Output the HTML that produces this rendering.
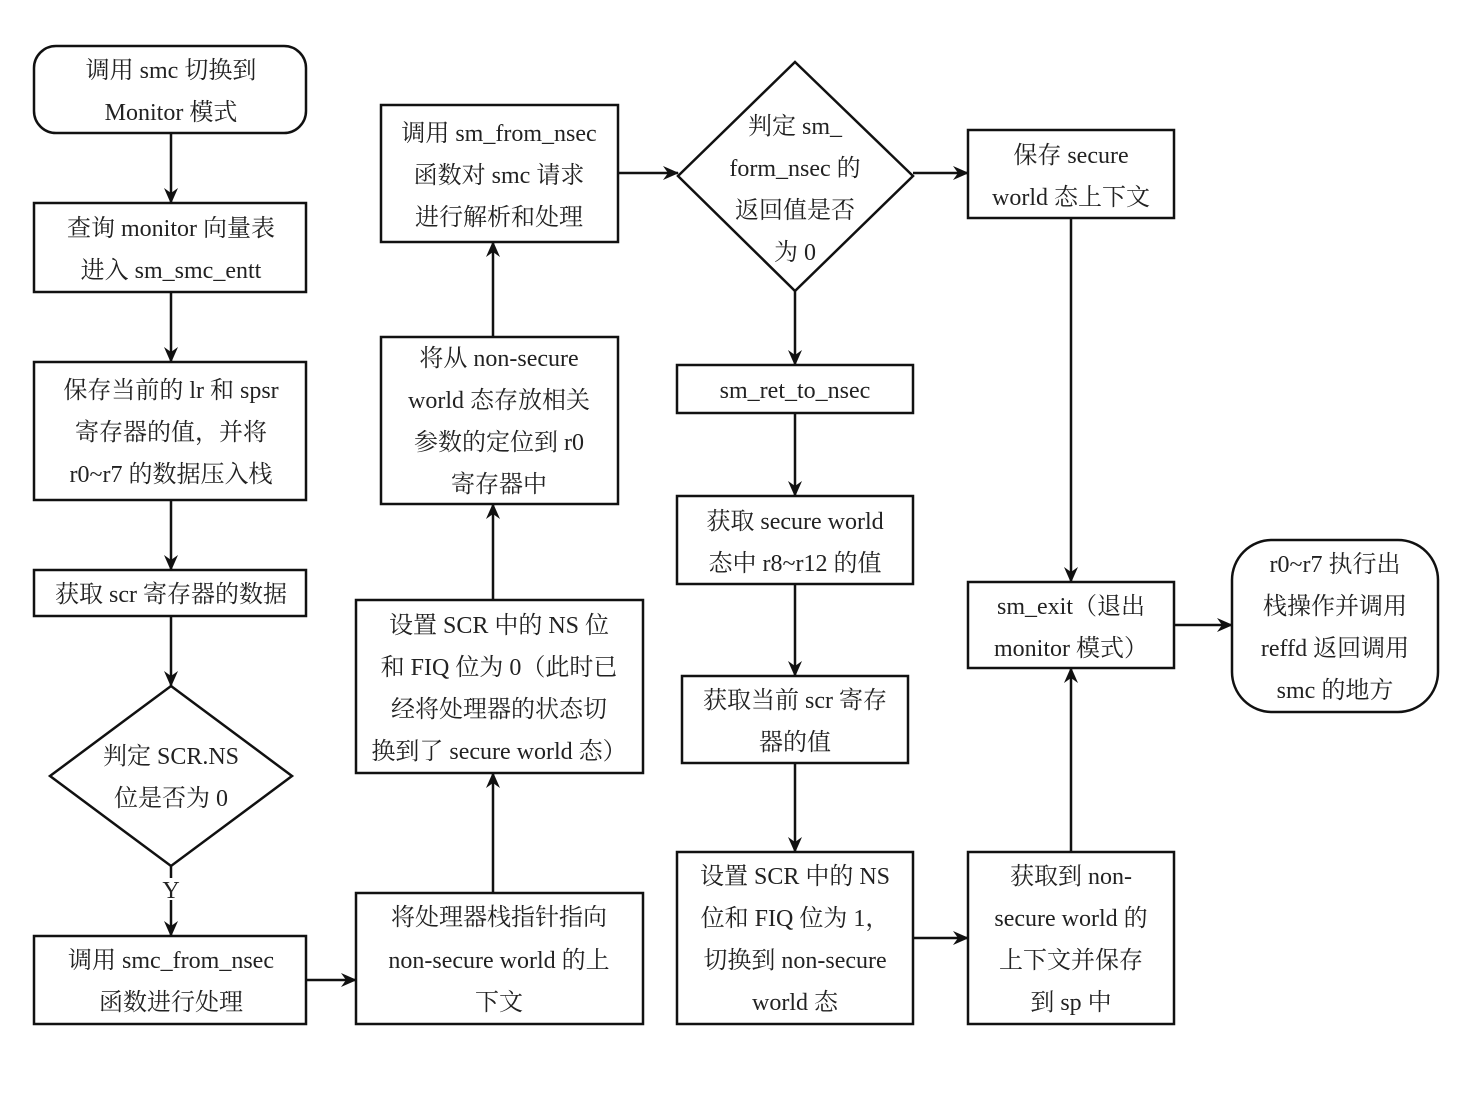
<!DOCTYPE html>
<html><head><meta charset="utf-8"><style>
html,body{margin:0;padding:0;background:#fff;}
svg text{font-family:"Liberation Serif","Noto Serif CJK SC",serif;font-size:24px;fill:#222;text-anchor:middle;}
</style></head><body>
<svg width="1470" height="1104" viewBox="0 0 1470 1104" xmlns="http://www.w3.org/2000/svg">
<defs><marker id="a" markerWidth="16" markerHeight="14" refX="15" refY="7" orient="auto" markerUnits="userSpaceOnUse"><path d="M0,0 L16,7 L0,14 L5,7 Z" fill="#111"/></marker></defs>
<g fill="none" stroke="#111" stroke-width="2.5">
<rect x="34" y="46" width="272" height="87" rx="22"/>
<rect x="34" y="203" width="272" height="89"/>
<rect x="34" y="362" width="272" height="138"/>
<rect x="34" y="570" width="272" height="46"/>
<polygon points="171,686 292,776 171,866 50,776"/>
<rect x="34" y="936" width="272" height="88"/>
<rect x="356" y="893" width="287" height="131"/>
<rect x="356" y="600" width="287" height="173"/>
<rect x="381" y="337" width="237" height="167"/>
<rect x="381" y="105" width="237" height="137"/>
<polygon points="795,62 913,176 795,291 678,176"/>
<rect x="677" y="365" width="236" height="48"/>
<rect x="677" y="496" width="236" height="88"/>
<rect x="682" y="676" width="226" height="87"/>
<rect x="677" y="852" width="236" height="172"/>
<rect x="968" y="130" width="206" height="88"/>
<rect x="968" y="582" width="206" height="86"/>
<rect x="968" y="852" width="206" height="172"/>
<rect x="1232" y="540" width="206" height="172" rx="40"/>
</g>
<g stroke="#111" stroke-width="2.5" marker-end="url(#a)">
<line x1="171" y1="133" x2="171" y2="203"/>
<line x1="171" y1="292" x2="171" y2="362"/>
<line x1="171" y1="500" x2="171" y2="570"/>
<line x1="171" y1="616" x2="171" y2="686"/>
<line x1="171" y1="900" x2="171" y2="936"/>
<line x1="306" y1="980" x2="356" y2="980"/>
<line x1="493" y1="893" x2="493" y2="773"/>
<line x1="493" y1="600" x2="493" y2="504"/>
<line x1="493" y1="337" x2="493" y2="242"/>
<line x1="618" y1="173" x2="678" y2="173"/>
<line x1="795" y1="291" x2="795" y2="365"/>
<line x1="795" y1="413" x2="795" y2="496"/>
<line x1="795" y1="584" x2="795" y2="676"/>
<line x1="795" y1="763" x2="795" y2="852"/>
<line x1="913" y1="938" x2="968" y2="938"/>
<line x1="913" y1="173" x2="968" y2="173"/>
<line x1="1071" y1="218" x2="1071" y2="582"/>
<line x1="1071" y1="852" x2="1071" y2="668"/>
<line x1="1174" y1="625" x2="1232" y2="625"/>
</g>
<line x1="171" y1="866" x2="171" y2="878" stroke="#111" stroke-width="2.5"/>
<text x="171" y="78">调用 smc 切换到</text>
<text x="171" y="120">Monitor 模式</text>
<text x="171" y="236">查询 monitor 向量表</text>
<text x="171" y="278">进入 sm_smc_entt</text>
<text x="171" y="398">保存当前的 lr 和 spsr</text>
<text x="171" y="440">寄存器的值，并将</text>
<text x="171" y="482">r0~r7 的数据压入栈</text>
<text x="171" y="602">获取 scr 寄存器的数据</text>
<text x="171" y="764">判定 SCR.NS</text>
<text x="171" y="806">位是否为 0</text>
<text x="171" y="898">Y</text>
<text x="171" y="968">调用 smc_from_nsec</text>
<text x="171" y="1010">函数进行处理</text>
<text x="499" y="925">将处理器栈指针指向</text>
<text x="499" y="968">non-secure world 的上</text>
<text x="499" y="1010">下文</text>
<text x="499" y="633">设置 SCR 中的 NS 位</text>
<text x="499" y="675">和 FIQ 位为 0（此时已</text>
<text x="499" y="717">经将处理器的状态切</text>
<text x="499" y="759">换到了 secure world 态）</text>
<text x="499" y="366">将从 non-secure</text>
<text x="499" y="408">world 态存放相关</text>
<text x="499" y="450">参数的定位到 r0</text>
<text x="499" y="492">寄存器中</text>
<text x="499" y="141">调用 sm_from_nsec</text>
<text x="499" y="183">函数对 smc 请求</text>
<text x="499" y="225">进行解析和处理</text>
<text x="795" y="134">判定 sm_</text>
<text x="795" y="176">form_nsec 的</text>
<text x="795" y="218">返回值是否</text>
<text x="795" y="260">为 0</text>
<text x="795" y="398">sm_ret_to_nsec</text>
<text x="795" y="529">获取 secure world</text>
<text x="795" y="571">态中 r8~r12 的值</text>
<text x="795" y="708">获取当前 scr 寄存</text>
<text x="795" y="750">器的值</text>
<text x="795" y="884">设置 SCR 中的 NS</text>
<text x="795" y="926">位和 FIQ 位为 1，</text>
<text x="795" y="968">切换到 non-secure</text>
<text x="795" y="1010">world 态</text>
<text x="1071" y="163">保存 secure</text>
<text x="1071" y="205">world 态上下文</text>
<text x="1071" y="614">sm_exit（退出</text>
<text x="1071" y="656">monitor 模式）</text>
<text x="1071" y="884">获取到 non-</text>
<text x="1071" y="926">secure world 的</text>
<text x="1071" y="968">上下文并保存</text>
<text x="1071" y="1010">到 sp 中</text>
<text x="1335" y="572">r0~r7 执行出</text>
<text x="1335" y="614">栈操作并调用</text>
<text x="1335" y="656">reffd 返回调用</text>
<text x="1335" y="698">smc 的地方</text>
</svg>
</body></html>
